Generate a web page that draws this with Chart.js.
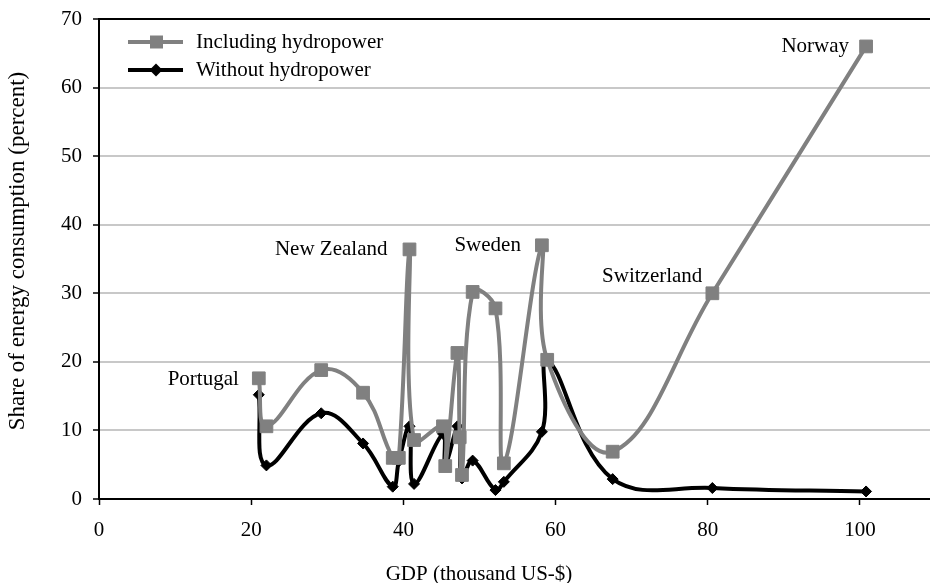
<!DOCTYPE html>
<html>
<head>
<meta charset="utf-8">
<script src="https://cdn.jsdelivr.net/npm/chart.js@4.4.1/dist/chart.umd.min.js"></script>
<style>
  html, body { margin: 0; padding: 0; background: #fff; }
  #wrap { width: 930px; height: 583px; }
</style>
</head>
<body>
<div id="wrap"><canvas id="myChart" width="930" height="583"></canvas></div>
<script>
// GDP (thousand US-$) per country, sorted
const gdp = [21.0, 22.0, 29.2, 34.7, 38.6, 39.4, 40.8, 41.4, 45.2, 45.5, 47.1, 47.4, 47.7, 49.1, 52.1, 53.2, 58.2, 58.9, 67.5, 80.6, 100.8];
// share of energy consumption (percent)
const withHydro = [17.6, 10.6, 18.8, 15.5, 6.0, 6.0, 36.4, 8.6, 10.6, 4.8, 21.3, 9.0, 3.5, 30.2, 27.8, 5.2, 37.0, 20.3, 6.9, 30.0, 66.0];
const withoutHydro = [15.2, 4.9, 12.5, 8.1, 1.8, 5.5, 10.6, 2.2, 9.5, 5.0, 10.6, 9.0, 3.0, 5.6, 1.3, 2.5, 9.8, 20.3, 2.9, 1.6, 1.1];
const seriesNames = ['Including hydropower', 'Without hydropower'];
const countryNames = ['Portugal', 'New Zealand', 'Sweden', 'Switzerland', 'Norway'];
const countryIdx = [0, 6, 16, 19, 20];
const xTitle = 'GDP (thousand US-$)';
const yTitle = 'Share of energy consumption (percent)';

const FONT = '"Liberation Serif", "Times New Roman", serif';

const toPoints = (ys) => ys.map((y, i) => ({ x: gdp[i], y: y }));

// label offsets (px) from the point, text right-aligned
const labelOffsets = [[-20, 1], [-22, 0], [-21, 0], [-10, -17], [-17, 0]];

const extras = {
    id: 'extras',
    afterDatasetsDraw(chart) {
        const { ctx, chartArea } = chart;
        const xs = chart.scales.x, ys = chart.scales.y;
        ctx.save();
        // top border
        ctx.strokeStyle = '#000';
        ctx.lineWidth = 2;
        ctx.beginPath();
        ctx.moveTo(chartArea.left, chartArea.top);
        ctx.lineTo(chartArea.right, chartArea.top);
        ctx.stroke();

        // country labels
        ctx.fillStyle = '#000';
        ctx.font = '21px ' + FONT;
        ctx.textAlign = 'right';
        ctx.textBaseline = 'middle';
        countryNames.forEach((name, k) => {
            const i = countryIdx[k];
            const px = xs.getPixelForValue(gdp[i]);
            const py = ys.getPixelForValue(withHydro[i]);
            ctx.fillText(name, px + labelOffsets[k][0], py + labelOffsets[k][1]);
        });

        // legend
        ctx.textAlign = 'left';
        chart.data.datasets.forEach((ds, k) => {
            const y = 42 + k * 28;
            ctx.strokeStyle = ds.borderColor;
            ctx.lineWidth = ds.borderWidth;
            ctx.beginPath();
            ctx.moveTo(128, y);
            ctx.lineTo(183, y);
            ctx.stroke();
            ctx.fillStyle = ds.pointBackgroundColor;
            ctx.beginPath();
            if (ds.pointStyle === 'rect') {
                ctx.rect(150, y - 6.5, 13, 13);
            } else {
                ctx.moveTo(156, y - 6.5); ctx.lineTo(162.5, y); ctx.lineTo(156, y + 6.5); ctx.lineTo(149.5, y);
                ctx.closePath();
            }
            ctx.fill();
            ctx.fillStyle = '#000';
            ctx.fillText(ds.label, 196, y);
        });

        // axis titles
        ctx.textAlign = 'center';
        ctx.fillText(xTitle, 479, 574);
        ctx.translate(18, 251);
        ctx.rotate(-Math.PI / 2);
        ctx.font = '23px ' + FONT;
        ctx.fillText(yTitle, 0, 0);
        ctx.restore();
    }
};

const config = {
    type: 'line',
    data: {
        datasets: [
            {
                label: seriesNames[0],
                data: toPoints(withHydro),
                borderColor: '#808080',
                backgroundColor: '#808080',
                pointBackgroundColor: '#808080',
                pointBorderColor: '#808080',
                borderWidth: 4,
                pointStyle: 'rect',
                pointRadius: 9,
                pointBorderWidth: 1,
                tension: 0.4
            },
            {
                label: seriesNames[1],
                data: toPoints(withoutHydro),
                borderColor: '#000000',
                backgroundColor: '#000000',
                pointBackgroundColor: '#000000',
                pointBorderColor: '#000000',
                borderWidth: 4,
                pointStyle: 'rectRot',
                pointRadius: 5.5,
                pointBorderWidth: 1,
                tension: 0.4
            }
        ]
    },
    options: {
        responsive: false,
        animation: false,
        layout: { autoPadding: false, padding: { top: 19, right: 0, left: 0, bottom: 0 } },
        plugins: { legend: { display: false }, tooltip: { enabled: false } },
        scales: {
            x: {
                type: 'linear',
                min: 0,
                max: 109.2,
                afterFit: (s) => { s.height = 84; s.paddingRight = 0; s.paddingLeft = 0; },
                ticks: { stepSize: 20, includeBounds: false, color: '#000', font: { family: FONT, size: 21 }, padding: 13, maxRotation: 0 },
                grid: { drawOnChartArea: false, drawTicks: true, tickLength: 6, tickColor: '#000', tickWidth: 1.5 },
                border: { color: '#000', width: 2 }
            },
            y: {
                min: 0,
                max: 70,
                afterFit: (s) => { s.width = 99; s.paddingTop = 0; s.paddingBottom = 0; },
                ticks: { stepSize: 10, color: '#000', font: { family: FONT, size: 21 }, padding: 11 },
                grid: { color: '#c8c8c8', lineWidth: 2, tickLength: 6, tickColor: '#000', tickWidth: 1.5 },
                border: { color: '#000', width: 2 }
            }
        }
    },
    plugins: [extras]
};

new Chart(document.getElementById('myChart').getContext('2d'), config);
</script>
</body>
</html>
